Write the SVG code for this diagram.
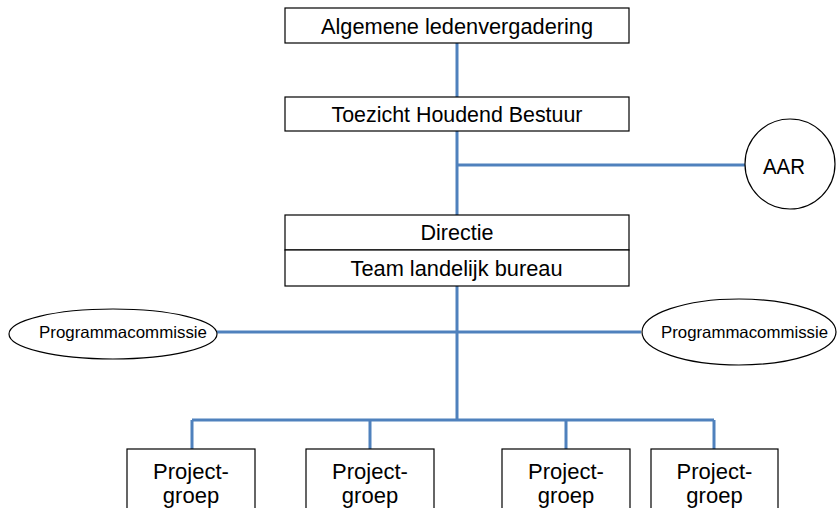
<svg xmlns="http://www.w3.org/2000/svg" width="837" height="508" viewBox="0 0 837 508">
<style>
.box{fill:#fff;stroke:#000;stroke-width:1.2}
.t{font-family:"Liberation Sans",Arial,sans-serif;fill:#000;text-anchor:middle}
.m{font-size:21.5px}
.p{font-size:22px}
.s{font-size:16.5px}
.c{fill:none;stroke:#4F81BD;stroke-width:3}
</style>
<rect width="837" height="508" fill="#fff"/>
<g id="connectors">
<path class="c" d="M457 43V97M457 131V215M457 165H745M457 286V420M217 332H641M192 420H714M192 420V449M370 420V449M566 420V449M714 420V449"/>
</g>
<g id="alv">
<rect class="box" x="285" y="8" width="344" height="35"/>
<text class="t m" x="457" y="34" textLength="272" lengthAdjust="spacingAndGlyphs">Algemene ledenvergadering</text>
</g>
<g id="thb">
<rect class="box" x="285" y="97" width="344" height="34"/>
<text class="t m" x="457" y="122" textLength="251" lengthAdjust="spacingAndGlyphs">Toezicht Houdend Bestuur</text>
</g>
<g id="aar">
<circle class="box" cx="790" cy="164" r="45"/>
<text class="t m" x="784" y="174" textLength="42" lengthAdjust="spacingAndGlyphs">AAR</text>
</g>
<g id="directie">
<rect class="box" x="285" y="215" width="344" height="35"/>
<text class="t m" x="457" y="240" textLength="73" lengthAdjust="spacingAndGlyphs">Directie</text>
</g>
<g id="team">
<rect class="box" x="285" y="250" width="344" height="36"/>
<text class="t m" x="456.5" y="276" textLength="212" lengthAdjust="spacingAndGlyphs">Team landelijk bureau</text>
</g>
<g id="pc-left">
<ellipse class="box" cx="113" cy="334" rx="104" ry="25"/>
<text class="t s" x="123" y="338" textLength="168" lengthAdjust="spacingAndGlyphs">Programmacommissie</text>
</g>
<g id="pc-right">
<ellipse class="box" cx="739" cy="332" rx="97" ry="33"/>
<text class="t s" x="744.5" y="338" textLength="167" lengthAdjust="spacingAndGlyphs">Programmacommissie</text>
</g>
<g id="pg1">
<rect class="box" x="127" y="449" width="128" height="70"/>
<text class="t p" x="191" y="479">Project-</text>
<text class="t p" x="191" y="503">groep</text>
</g>
<g id="pg2">
<rect class="box" x="306" y="449" width="128" height="70"/>
<text class="t p" x="370" y="479">Project-</text>
<text class="t p" x="370" y="503">groep</text>
</g>
<g id="pg3">
<rect class="box" x="502" y="449" width="128" height="70"/>
<text class="t p" x="566" y="479">Project-</text>
<text class="t p" x="566" y="503">groep</text>
</g>
<g id="pg4">
<rect class="box" x="651" y="449" width="127" height="70"/>
<text class="t p" x="714.5" y="479">Project-</text>
<text class="t p" x="714.5" y="503">groep</text>
</g>
</svg>
